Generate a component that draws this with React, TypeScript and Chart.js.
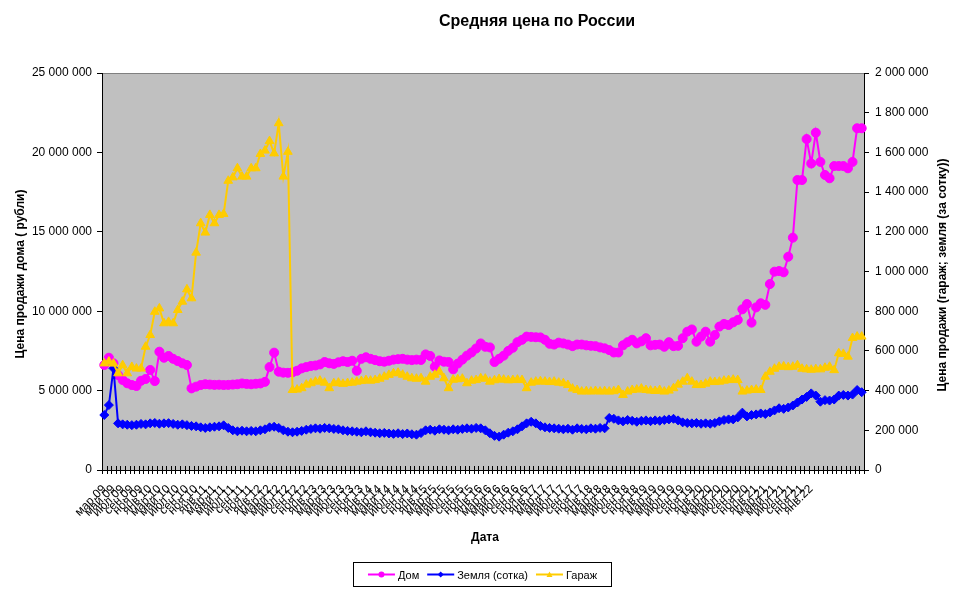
import React, { useEffect, useRef } from 'react';
import { Chart, registerables } from 'chart.js';

Chart.register(...registerables);

const chartTitle = 'Средняя цена по России';
const xTitle = 'Дата';
const leftTitle = 'Цена продажи дома ( рубли)';
const rightTitle = 'Цена продажи (гараж; земля (за сотку))';

const categories = [
  'мар.09','апр.09','май.09','июн.09','июл.09','авг.09','сен.09','окт.09','ноя.09','дек.09',
  'янв.10','фев.10','мар.10','апр.10','май.10','июн.10','июл.10','авг.10','сен.10','окт.10','ноя.10','дек.10',
  'янв.11','фев.11','мар.11','апр.11','май.11','июн.11','июл.11','авг.11','сен.11','окт.11','ноя.11','дек.11',
  'янв.12','фев.12','мар.12','апр.12','май.12','июн.12','июл.12','авг.12','сен.12','окт.12','ноя.12','дек.12',
  'янв.13','фев.13','мар.13','апр.13','май.13','июн.13','июл.13','авг.13','сен.13','окт.13','ноя.13','дек.13',
  'янв.14','фев.14','мар.14','апр.14','май.14','июн.14','июл.14','авг.14','сен.14','окт.14','ноя.14','дек.14',
  'янв.15','фев.15','мар.15','апр.15','май.15','июн.15','июл.15','авг.15','сен.15','окт.15','ноя.15','дек.15',
  'янв.16','фев.16','мар.16','апр.16','май.16','июн.16','июл.16','авг.16','сен.16','окт.16','ноя.16','дек.16',
  'янв.17','фев.17','мар.17','апр.17','май.17','июн.17','июл.17','авг.17','сен.17','окт.17','ноя.17','дек.17',
  'янв.18','фев.18','мар.18','апр.18','май.18','июн.18','июл.18','авг.18','сен.18','окт.18','ноя.18','дек.18',
  'янв.19','фев.19','мар.19','апр.19','май.19','июн.19','июл.19','авг.19','сен.19','окт.19','ноя.19','дек.19',
  'янв.20','фев.20','мар.20','апр.20','май.20','июн.20','июл.20','авг.20','сен.20','окт.20','ноя.20','дек.20',
  'янв.21','фев.21','мар.21','апр.21','май.21','июн.21','июл.21','авг.21','сен.21','окт.21','ноя.21','дек.21',
  'янв.22','','','','','','','','','','',''
];

// Дом, rubles (left axis)
const domValues = [
  6.61e6,7.07e6,6.72e6,5.98e6,5.67e6,5.46e6,5.35e6,5.29e6,5.62e6,5.73e6,
  6.30e6,5.60e6,7.45e6,7.07e6,7.18e6,7.00e6,6.86e6,6.72e6,6.61e6,5.14e6,5.25e6,5.35e6,
  5.40e6,5.38e6,5.36e6,5.37e6,5.35e6,5.36e6,5.38e6,5.40e6,5.45e6,5.42e6,5.40e6,5.43e6,
  5.45e6,5.55e6,6.48e6,7.39e6,6.19e6,6.13e6,6.12e6,6.15e6,6.25e6,6.40e6,6.48e6,6.55e6,
  6.58e6,6.65e6,6.80e6,6.72e6,6.68e6,6.78e6,6.85e6,6.80e6,6.88e6,6.25e6,7.00e6,7.10e6,
  7.00e6,6.92e6,6.85e6,6.82e6,6.88e6,6.95e6,6.98e6,7.00e6,6.95e6,6.92e6,6.95e6,6.93e6,
  7.28e6,7.18e6,6.50e6,6.90e6,6.82e6,6.80e6,6.34e6,6.70e6,6.95e6,7.20e6,7.40e6,7.65e6,
  7.97e6,7.76e6,7.72e6,6.80e6,7.00e6,7.20e6,7.50e6,7.70e6,8.05e6,8.20e6,8.40e6,8.38e6,
  8.36e6,8.35e6,8.20e6,7.95e6,7.90e6,8.02e6,7.97e6,7.90e6,7.80e6,7.90e6,7.90e6,7.85e6,
  7.82e6,7.80e6,7.72e6,7.66e6,7.55e6,7.40e6,7.40e6,7.85e6,8.05e6,8.20e6,7.97e6,8.10e6,
  8.30e6,7.85e6,7.88e6,7.90e6,7.76e6,8.05e6,7.80e6,7.82e6,8.30e6,8.71e6,8.85e6,8.08e6,
  8.40e6,8.71e6,8.08e6,8.50e6,9.03e6,9.20e6,9.13e6,9.30e6,9.45e6,10.12e6,10.45e6,9.28e6,
  10.24e6,10.50e6,10.40e6,11.71e6,12.49e6,12.53e6,12.45e6,13.43e6,14.63e6,18.26e6,18.26e6,20.84e6,
  19.30e6,21.24e6,19.40e6,18.58e6,18.37e6,19.14e6,19.14e6,19.14e6,19.00e6,19.40e6,21.52e6,21.52e6
];

// Земля (сотка), rubles (right axis)
const zemlyaValues = [
  277e3,327e3,512e3,235e3,230e3,228e3,226e3,228e3,232e3,230e3,
  235e3,237e3,233e3,235e3,236e3,232e3,228e3,230e3,226e3,222e3,220e3,215e3,
  212e3,215e3,218e3,220e3,225e3,212e3,200e3,195e3,198e3,195e3,197e3,195e3,
  200e3,205e3,215e3,218e3,212e3,200e3,193e3,190e3,193e3,197e3,203e3,207e3,
  210e3,208e3,212e3,210e3,207e3,205e3,200e3,197e3,195e3,193e3,190e3,195e3,
  190e3,188e3,185e3,187e3,184e3,182e3,185e3,181e3,184e3,180e3,178e3,186e3,
  200e3,203e3,198e3,205e3,203e3,200e3,205e3,203e3,207e3,210e3,208e3,212e3,
  210e3,200e3,185e3,172e3,168e3,178e3,188e3,195e3,205e3,220e3,235e3,243e3,
  235e3,222e3,215e3,212e3,210e3,208e3,205e3,208e3,203e3,210e3,207e3,205e3,
  210e3,208e3,212e3,210e3,262e3,258e3,250e3,245e3,252e3,248e3,243e3,248e3,
  250e3,246e3,250e3,248e3,252e3,255e3,258e3,250e3,240e3,237e3,235e3,237e3,
  233e3,235e3,233e3,237e3,245e3,252e3,255e3,255e3,265e3,289e3,270e3,277e3,
  280e3,285e3,282e3,290e3,300e3,311e3,308e3,315e3,325e3,340e3,355e3,368e3,
  386e3,375e3,344e3,352e3,350e3,355e3,375e3,378e3,375e3,380e3,403e3,392e3
];

// Гараж, rubles (right axis)
const garageValues = [
  537e3,546e3,536e3,487e3,528e3,487e3,519e3,511e3,511e3,621e3,
  680e3,797e3,814e3,739e3,746e3,739e3,806e3,848e3,910e3,865e3,1095e3,1243e3,
  1196e3,1285e3,1243e3,1285e3,1290e3,1457e3,1474e3,1520e3,1478e3,1478e3,1520e3,1520e3,
  1592e3,1609e3,1657e3,1595e3,1747e3,1478e3,1603e3,403e3,405e3,412e3,430e3,437e3,
  445e3,450e3,440e3,412e3,437e3,440e3,434e3,438e3,440e3,445e3,448e3,453e3,
  450e3,453e3,460e3,470e3,479e3,487e3,490e3,480e3,470e3,462e3,460e3,462e3,
  445e3,470e3,480e3,495e3,462e3,412e3,455e3,457e3,460e3,437e3,450e3,453e3,
  462e3,460e3,445e3,452e3,458e3,455e3,452e3,453e3,455e3,453e3,412e3,440e3,
  445e3,447e3,445e3,443e3,445e3,440e3,437e3,428e3,410e3,403e3,395e3,397e3,
  395e3,398e3,395e3,397e3,395e3,397e3,403e3,378e3,395e3,403e3,405e3,410e3,
  403e3,400e3,398e3,403e3,395e3,400e3,412e3,430e3,445e3,462e3,445e3,428e3,
  428e3,435e3,445e3,443e3,445e3,450e3,453e3,455e3,453e3,395e3,400e3,403e3,
  405e3,403e3,470e3,495e3,510e3,520e3,522e3,518e3,520e3,528e3,510e3,507e3,
  505e3,508e3,507e3,515e3,520e3,503e3,588e3,585e3,571e3,665e3,672e3,672e3
];

const seriesNames = ['Дом', 'Земля (сотка)', 'Гараж'];
const seriesColors = ['#FF00FF', '#0000FF', '#FFCC00'];
const seriesMarkers = ['circle', 'rectRot', 'triangle'];

const FONT = '"Liberation Sans", Arial, sans-serif';

function fmt(v: number): string {
  return String(Math.round(v)).replace(/\B(?=(\d{3})+(?!\d))/g, ' ');
}

function drawMarker(ctx: CanvasRenderingContext2D, style: string, x: number, y: number, r: number) {
  ctx.beginPath();
  if (style === 'circle') {
    ctx.arc(x, y, r, 0, Math.PI * 2);
  } else if (style === 'rectRot') {
    ctx.moveTo(x, y - r);
    ctx.lineTo(x + r, y);
    ctx.lineTo(x, y + r);
    ctx.lineTo(x - r, y);
    ctx.closePath();
  } else {
    ctx.moveTo(x, y - r);
    ctx.lineTo(x + r, y + r * 0.8);
    ctx.lineTo(x - r, y + r * 0.8);
    ctx.closePath();
  }
  ctx.fill();
}

const decorPlugin = {
  id: 'decor',
  beforeDraw(chart: any) {
    const { ctx, chartArea: a } = chart;
    ctx.save();
    ctx.fillStyle = '#C0C0C0';
    ctx.fillRect(a.left, a.top, a.right - a.left, a.bottom - a.top);
    ctx.strokeStyle = '#808080';
    ctx.lineWidth = 1;
    ctx.beginPath();
    ctx.moveTo(a.left, Math.round(a.top) + 0.5);
    ctx.lineTo(a.right, Math.round(a.top) + 0.5);
    ctx.stroke();
    ctx.restore();
  },
  afterDraw(chart: any) {
    const { ctx, chartArea: a } = chart;
    ctx.save();
    // crossing tick marks on category axis
    const n = categories.length;
    const w = (a.right - a.left) / n;
    ctx.strokeStyle = '#000';
    ctx.lineWidth = 1;
    ctx.beginPath();
    for (let i = 0; i <= n; i++) {
      const x = Math.round(a.left + i * w) + 0.5;
      ctx.moveTo(x, a.bottom - 4);
      ctx.lineTo(x, a.bottom + 4);
    }
    ctx.stroke();

    ctx.fillStyle = '#000';
    // chart title
    ctx.font = 'bold 16px ' + FONT;
    ctx.textAlign = 'center';
    ctx.textBaseline = 'middle';
    ctx.fillText(chartTitle, 537, 22);
    // x title
    ctx.font = 'bold 12px ' + FONT;
    ctx.fillText(xTitle, 485, 538);
    // left title
    ctx.save();
    ctx.translate(21, 274);
    ctx.rotate(-Math.PI / 2);
    ctx.fillText(leftTitle, 0, 0);
    ctx.restore();
    // right title
    ctx.save();
    ctx.translate(943, 275);
    ctx.rotate(-Math.PI / 2);
    ctx.fillText(rightTitle, 0, 0);
    ctx.restore();

    // legend
    ctx.font = '11px ' + FONT;
    const lineLen = 27;
    const gapText = 3;
    const gapItem = 8;
    const widths = seriesNames.map((s) => ctx.measureText(s).width);
    let total = 0;
    widths.forEach((tw, i) => {
      total += lineLen + gapText + tw + (i < widths.length - 1 ? gapItem : 0);
    });
    const boxL = 353, boxR = 612, boxT = 562, boxB = 587;
    ctx.fillStyle = '#fff';
    ctx.fillRect(boxL, boxT, boxR - boxL, boxB - boxT);
    ctx.strokeStyle = '#000';
    ctx.strokeRect(boxL + 0.5, boxT + 0.5, boxR - boxL - 1, boxB - boxT - 1);
    let x = (boxL + boxR) / 2 - total / 2;
    const cy = (boxT + boxB) / 2;
    seriesNames.forEach((name, i) => {
      ctx.strokeStyle = seriesColors[i];
      ctx.lineWidth = 2;
      ctx.beginPath();
      ctx.moveTo(x, cy);
      ctx.lineTo(x + lineLen, cy);
      ctx.stroke();
      ctx.fillStyle = seriesColors[i];
      drawMarker(ctx, seriesMarkers[i], x + lineLen / 2, cy, 3);
      ctx.fillStyle = '#000';
      ctx.textAlign = 'left';
      ctx.fillText(name, x + lineLen + gapText, cy + 1);
      x += lineLen + gapText + widths[i] + gapItem;
    });
    ctx.restore();
  },
};

export default function App() {
  const ref = useRef<HTMLCanvasElement | null>(null);

  useEffect(() => {
    if (!ref.current) return;
    const tickFont = { family: FONT, size: 12 };
    const chart = new Chart(ref.current, {
      type: 'line',
      data: {
        labels: categories,
        datasets: [
          {
            label: seriesNames[0],
            data: domValues,
            yAxisID: 'y',
            borderColor: seriesColors[0],
            backgroundColor: seriesColors[0],
            borderWidth: 2,
            pointStyle: seriesMarkers[0] as any,
            pointRadius: 4.5,
            pointBorderWidth: 1,
            tension: 0,
            clip: false as any,
            order: 3,
          },
          {
            label: seriesNames[1],
            data: zemlyaValues,
            yAxisID: 'y1',
            borderColor: seriesColors[1],
            backgroundColor: seriesColors[1],
            borderWidth: 2,
            pointStyle: seriesMarkers[1] as any,
            pointRadius: 4.5,
            pointBorderWidth: 1,
            tension: 0,
            clip: false as any,
            order: 2,
          },
          {
            label: seriesNames[2],
            data: garageValues,
            yAxisID: 'y1',
            borderColor: seriesColors[2],
            backgroundColor: seriesColors[2],
            borderWidth: 2,
            pointStyle: seriesMarkers[2] as any,
            pointRadius: 5,
            pointBorderWidth: 1,
            tension: 0,
            clip: false as any,
            order: 1,
          },
        ],
      },
      options: {
        animation: false,
        responsive: false,
        devicePixelRatio: 1,
        layout: { padding: { top: 73, left: 0, right: 0, bottom: 0 } },
        plugins: {
          legend: { display: false },
          title: { display: false },
          tooltip: { enabled: false },
        },
        scales: {
          x: {
            type: 'category',
            offset: true,
            grid: { display: true, drawOnChartArea: false, drawTicks: false, offset: true },
            border: { display: true, color: '#000', width: 1 },
            ticks: {
              autoSkip: false,
              maxRotation: 45,
              minRotation: 45,
              padding: 12,
              color: '#000',
              font: tickFont,
              callback: (_v: any, idx: number) => (idx % 2 === 0 ? categories[idx] : ''),
            },
            afterFit: (s: any) => {
              s.height = 119;
            },
          },
          y: {
            type: 'linear',
            position: 'left',
            min: 0,
            max: 25e6,
            grid: { drawOnChartArea: false, color: '#000', tickLength: 5 },
            border: { display: true, color: '#000', width: 1 },
            ticks: {
              stepSize: 5e6,
              color: '#000',
              font: tickFont,
              padding: 5,
              callback: (v: any) => fmt(Number(v)),
            },
            afterFit: (s: any) => {
              s.width = 102;
            },
          },
          y1: {
            type: 'linear',
            position: 'right',
            min: 0,
            max: 2e6,
            grid: { drawOnChartArea: false, color: '#000', tickLength: 5 },
            border: { display: true, color: '#000', width: 1 },
            ticks: {
              stepSize: 2e5,
              color: '#000',
              font: tickFont,
              padding: 6,
              callback: (v: any) => fmt(Number(v)),
            },
            afterFit: (s: any) => {
              s.width = 102;
            },
          },
        },
      } as any,
      plugins: [decorPlugin],
    });
    return () => chart.destroy();
  }, []);

  return (
    <div style={{ position: 'fixed', left: 0, top: 0, width: 966, height: 589, background: '#fff' }}>
      <canvas ref={ref} width={966} height={589} style={{ display: 'block', width: 966, height: 589 }} />
    </div>
  );
}
